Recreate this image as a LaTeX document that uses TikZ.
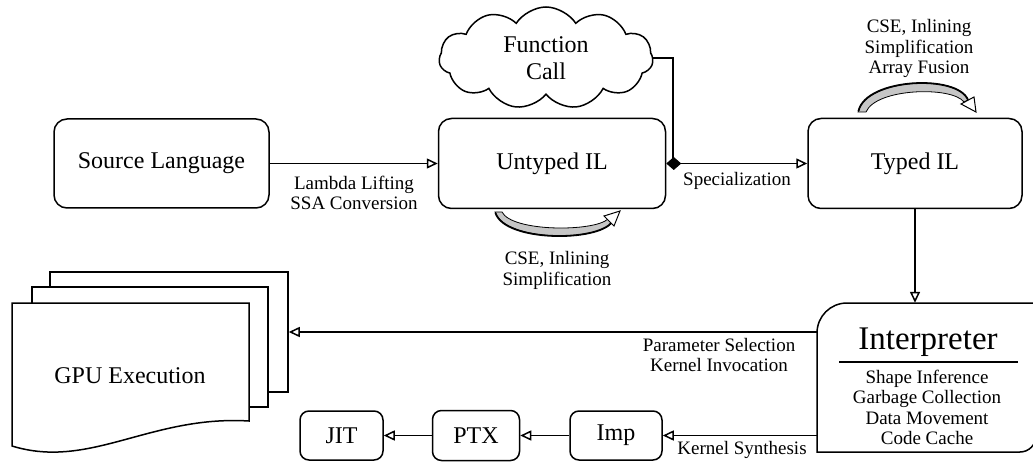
\documentclass[tikz,border=0pt]{standalone}
\usepackage{fontspec}
\IfFontExistsTF{LiberationSerif-Regular.ttf}
  {\setmainfont{LiberationSerif-Regular.ttf}[BoldFont=LiberationSerif-Bold.ttf]}
  {\IfFontExistsTF{Liberation Serif}{\setmainfont{Liberation Serif}}{}}
\usetikzlibrary{shapes.symbols,arrows.meta}
\begin{document}
\begin{tikzpicture}[x=1pt,y=-1pt,
  lw/.style={line width=1.5pt},
  bigtxt/.style={font=\fontsize{24}{27}\selectfont},
  box/.style={draw, line width=1.5pt, rounded corners=13pt, align=center, bigtxt},
  sbox/.style={draw, line width=1.5pt, rounded corners=9pt, align=center, bigtxt},
  lab/.style={align=center, font=\fontsize{19}{20.5}\selectfont, inner sep=0pt},
  arr/.style={line width=1.5pt, -{Triangle[open, length=11pt, width=10pt]}},
  page/.style={draw, line width=1.5pt, fill=white, inner sep=0pt},
  loopfill/.style={draw, line width=0.8pt, fill=gray!45},
]
\clip (0,0) rectangle (1033,462);

% main boxes
\node[box, minimum width=215pt, minimum height=89pt] (src) at (161.5,163.5) {Source Language};
\node[box, minimum width=227pt, minimum height=90pt] (un) at (552,163.5) {Untyped IL};
\node[box, minimum width=214pt, minimum height=90pt] (ty) at (915,163.5) {Typed IL};

% cloud
\node[cloud, draw, lw, cloud puffs=11, cloud puff arc=115, cloud ignores aspect,
      minimum width=214pt, minimum height=102pt, align=center,
      font=\fontsize{24}{27}\selectfont] (cl) at (546,58) {Function\\Call};

% small boxes
\node[sbox, minimum width=83pt, minimum height=49pt] (jit) at (341.5,435.5) {JIT};
\node[sbox, minimum width=87pt, minimum height=50pt] (ptx) at (476,435.5) {PTX};
\node[sbox, minimum width=92pt, minimum height=49pt] (imp) at (616,435.5) {Imp};

% interpreter
\node[minimum width=219pt, minimum height=149pt, inner sep=0pt] (ip) at (926.5,377.5) {};
\draw[lw] (817,452) -- (817,333) .. controls (817,316.4) and (830.4,303) .. (847,303)
  -- (1036,303) -- (1036,436) .. controls (1036,444.8) and (1028.8,452) .. (1020,452) -- cycle;
\node[font=\fontsize{33}{36}\selectfont, inner sep=0pt] (ipt) at (928,342) {Interpreter};
\draw[lw] (839,362) -- (1018,362);
\node[lab] (ipl) at (927,407.5) {Shape Inference\\Garbage Collection\\Data Movement\\Code Cache};

% GPU stack
\node[page, minimum width=238pt, minimum height=120pt] (gb) at (169,332) {};
\node[page, minimum width=236pt, minimum height=120pt] (gm) at (150,347) {};
\draw[lw, fill=white] (12,303) -- (249,303) -- (249,421)
  .. controls (150,415) and (90,470) .. (12,446) -- cycle;
\node[bigtxt] (gf) at (130,376) {GPU Execution};

% connectors
\draw[arr] (src) -- (un);
\node[lab] (l1) at (354,193) {Lambda Lifting\\SSA Conversion};

\draw[line width=1.5pt, {Diamond[length=15pt, width=13pt]}-{Triangle[open, length=11pt, width=10pt]}] (un.east) -- (ty.west);
\coordinate (j) at (673,163.5);
\draw[lw] (cl.east) -| (j);
\node[lab] (l2) at (737,181) {Specialization};

\draw[arr] (ty.south) -- (ty.south |- ip.north);

\draw[arr] (ip.west |- gb.east) -- (gb.east);
\node[lab] (l3) at (719,355) {Parameter Selection\\Kernel Invocation};

\draw[arr] (ip.west |- imp.east) -- (imp.east);
\node[lab] (l4) at (742,450) {Kernel Synthesis};
\draw[arr] (imp) -- (ptx);
\draw[arr] (ptx) -- (jit);

% loop below Untyped IL
\draw[loopfill] (495,212) .. controls (505,242) and (598,242) .. (612,222)
  -- (608,219) .. controls (594,232) and (512,232) .. (502,212) -- cycle;
\draw[line width=1.8pt] (495.5,213) .. controls (505,242) and (598,242) .. (612,222);
\draw[line width=1pt, fill=white] (604,216) -- (620,211) -- (614,226) -- cycle;
\node[lab] (l5) at (557,270.5) {CSE, Inlining\\Simplification};

% loop above Typed IL
\draw[loopfill] (858,112) .. controls (866,78) and (958,74) .. (968,100)
  -- (964,102) .. controls (952,86) and (876,88) .. (866,112) -- cycle;
\draw[line width=1.8pt] (858.5,111) .. controls (866,78) and (958,74) .. (968,100);
\draw[line width=1pt, fill=white] (961,104) -- (974,97) -- (976,112) -- cycle;
\node[lab] (l6) at (919,48.5) {CSE, Inlining\\Simplification\\Array Fusion};
\end{tikzpicture}
\end{document}
